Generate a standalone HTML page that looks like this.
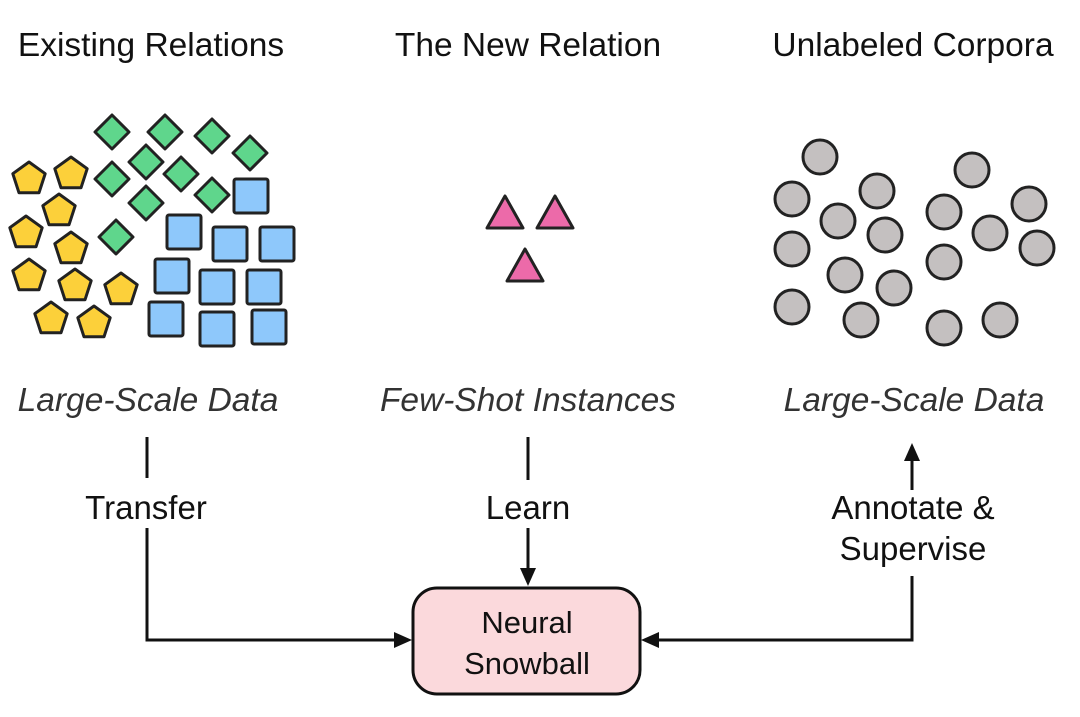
<!DOCTYPE html>
<html><head><meta charset="utf-8"><style>
body{margin:0;background:#fff;width:1080px;height:712px;overflow:hidden}
</style></head><body>
<svg width="1080" height="712" xmlns="http://www.w3.org/2000/svg" font-family="Liberation Sans, sans-serif">
<g font-size="33.5" fill="#111" text-anchor="middle">
<text x="151" y="56">Existing Relations</text>
<text x="528" y="56">The New Relation</text>
<text x="913" y="56">Unlabeled Corpora</text>
</g>
<g font-size="33.5" fill="#333" font-style="italic" text-anchor="middle">
<text x="148" y="411">Large-Scale Data</text>
<text x="528" y="411">Few-Shot Instances</text>
<text x="914" y="411">Large-Scale Data</text>
</g>
<g font-size="33" fill="#111" text-anchor="middle">
<text x="146" y="519">Transfer</text>
<text x="528" y="519">Learn</text>
<text x="913" y="519">Annotate &amp;</text>
<text x="913" y="560">Supervise</text>
</g>
<g stroke="#222" stroke-width="3" stroke-linejoin="round">
<g fill="#5fd68c">
<path d="M0,-17 L17,0 L0,17 L-17,0Z" transform="translate(112,132)"/>
<path d="M0,-17 L17,0 L0,17 L-17,0Z" transform="translate(165,132)"/>
<path d="M0,-17 L17,0 L0,17 L-17,0Z" transform="translate(212,136)"/>
<path d="M0,-17 L17,0 L0,17 L-17,0Z" transform="translate(250,153)"/>
<path d="M0,-17 L17,0 L0,17 L-17,0Z" transform="translate(146,162)"/>
<path d="M0,-17 L17,0 L0,17 L-17,0Z" transform="translate(112,179)"/>
<path d="M0,-17 L17,0 L0,17 L-17,0Z" transform="translate(181,174)"/>
<path d="M0,-17 L17,0 L0,17 L-17,0Z" transform="translate(212,195)"/>
<path d="M0,-17 L17,0 L0,17 L-17,0Z" transform="translate(146,203)"/>
<path d="M0,-17 L17,0 L0,17 L-17,0Z" transform="translate(116,237)"/>
</g>
<g fill="#fcd03a">
<path d="M0,-17 L16.2,-5.3 L10,13.8 L-10,13.8 L-16.2,-5.3Z" transform="translate(29,179)"/>
<path d="M0,-17 L16.2,-5.3 L10,13.8 L-10,13.8 L-16.2,-5.3Z" transform="translate(71,174)"/>
<path d="M0,-17 L16.2,-5.3 L10,13.8 L-10,13.8 L-16.2,-5.3Z" transform="translate(59,211)"/>
<path d="M0,-17 L16.2,-5.3 L10,13.8 L-10,13.8 L-16.2,-5.3Z" transform="translate(26,233)"/>
<path d="M0,-17 L16.2,-5.3 L10,13.8 L-10,13.8 L-16.2,-5.3Z" transform="translate(71,249)"/>
<path d="M0,-17 L16.2,-5.3 L10,13.8 L-10,13.8 L-16.2,-5.3Z" transform="translate(29,276)"/>
<path d="M0,-17 L16.2,-5.3 L10,13.8 L-10,13.8 L-16.2,-5.3Z" transform="translate(75,286)"/>
<path d="M0,-17 L16.2,-5.3 L10,13.8 L-10,13.8 L-16.2,-5.3Z" transform="translate(121,290)"/>
<path d="M0,-17 L16.2,-5.3 L10,13.8 L-10,13.8 L-16.2,-5.3Z" transform="translate(51,319)"/>
<path d="M0,-17 L16.2,-5.3 L10,13.8 L-10,13.8 L-16.2,-5.3Z" transform="translate(94,323)"/>
</g>
<g fill="#8ec8fb">
<rect x="234" y="179" width="34" height="34" rx="2"/>
<rect x="167" y="215" width="34" height="34" rx="2"/>
<rect x="213" y="227" width="34" height="34" rx="2"/>
<rect x="260" y="227" width="34" height="34" rx="2"/>
<rect x="155" y="259" width="34" height="34" rx="2"/>
<rect x="200" y="270" width="34" height="34" rx="2"/>
<rect x="247" y="270" width="34" height="34" rx="2"/>
<rect x="149" y="302" width="34" height="34" rx="2"/>
<rect x="200" y="312" width="34" height="34" rx="2"/>
<rect x="252" y="310" width="34" height="34" rx="2"/>
</g>
<g fill="#ec6aa9">
<path d="M505,196 L523,228 L487,228Z"/>
<path d="M555,196 L573,228 L537,228Z"/>
<path d="M525,249 L543,281 L507,281Z"/>
</g>
<g fill="#c4c0c0">
<circle cx="820" cy="157" r="17"/><circle cx="792" cy="199" r="17"/>
<circle cx="877" cy="191" r="17"/><circle cx="838" cy="221" r="17"/>
<circle cx="885" cy="235" r="17"/><circle cx="792" cy="249" r="17"/>
<circle cx="845" cy="275" r="17"/><circle cx="894" cy="288" r="17"/>
<circle cx="792" cy="307" r="17"/><circle cx="861" cy="320" r="17"/>
<circle cx="972" cy="170" r="17"/><circle cx="944" cy="212" r="17"/>
<circle cx="1029" cy="204" r="17"/><circle cx="990" cy="233" r="17"/>
<circle cx="1037" cy="248" r="17"/><circle cx="944" cy="262" r="17"/>
<circle cx="944" cy="328" r="17"/><circle cx="1000" cy="320" r="17"/>
</g>
</g>
<g stroke="#111" stroke-width="3" fill="none">
<line x1="147" y1="437" x2="147" y2="478"/>
<polyline points="147,528 147,640 398,640"/>
<line x1="528" y1="437" x2="528" y2="480"/>
<line x1="528" y1="528" x2="528" y2="570"/>
<polyline points="912,576 912,640 656,640"/>
<line x1="912" y1="490" x2="912" y2="460"/>
</g>
<g fill="#111">
<path d="M412,640 L394,632 L394,648Z"/>
<path d="M528,586 L520,568 L536,568Z"/>
<path d="M641,640 L659,632 L659,648Z"/>
<path d="M912,443 L904,461 L920,461Z"/>
</g>
<rect x="413" y="588" width="227" height="106" rx="24" fill="#fbd9dc" stroke="#111" stroke-width="3"/>
<g font-size="31" fill="#111" text-anchor="middle">
<text x="527" y="633">Neural</text>
<text x="527" y="674">Snowball</text>
</g>
</svg>
</body></html>
